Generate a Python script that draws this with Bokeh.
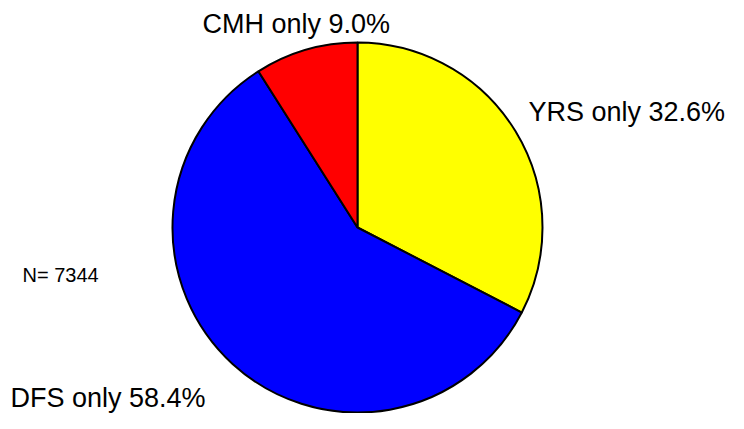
import numpy as np
from bokeh.plotting import figure
from bokeh.models import Range1d, ColumnDataSource
from bokeh.core.properties import value
from bokeh.embed import file_html
from bokeh.resources import INLINE

# ---- data ----
categories = ["YRS", "DFS", "CMH"]
percents = [32.6, 58.4, 9.0]
n_total = 7344

# ---- styles / layout ----
colors = ["#FFFF00", "#0000FF", "#FF0000"]
W, H = 728, 413
cx, cy, r = 357, 186, 185          # pie centre / radius in canvas pixels (y up)
label_x = [528, 10, 202]
label_y = [302, 16, 390]

frac = np.array(percents) / sum(percents)
cum = np.concatenate([[0], np.cumsum(frac)])
end_angles = np.pi / 2 - cum[:-1] * 2 * np.pi
start_angles = np.pi / 2 - cum[1:] * 2 * np.pi

p = figure(width=W, height=H, output_backend="svg", toolbar_location=None,
           x_range=Range1d(0, W), y_range=Range1d(0, H), min_border=0)
p.axis.visible = False
p.grid.visible = False
p.outline_line_color = None
p.background_fill_color = "white"
p.border_fill_color = "white"

src = ColumnDataSource(dict(start=start_angles, end=end_angles, color=colors,
                            cat=categories, pct=percents))
p.wedge(x=cx, y=cy, radius=r, start_angle="start", end_angle="end",
        fill_color="color", line_color="black", line_width=2, source=src)

labels = [f"{c} only {v:.1f}%" for c, v in zip(categories, percents)]
p.text(x=label_x, y=label_y, text=labels, text_font=value("Liberation Sans"),
       text_font_size="27px", text_baseline="alphabetic", text_align="left",
       text_color="black")
p.text(x=[22], y=[139], text=[f"N= {n_total}"], text_font=value("Liberation Sans"),
       text_font_size="20px", text_baseline="alphabetic", text_align="left",
       text_color="black")

open("out.html", "w").write(file_html(p, INLINE))
